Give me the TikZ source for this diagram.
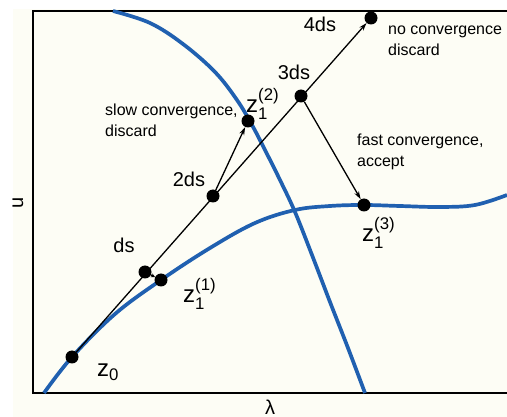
\documentclass[tikz,border=0pt]{standalone}
\usepackage{amsmath}
\usepackage{fontspec}
\setmainfont{Liberation Sans}
\usepackage{xcolor}
\usepackage{tikz}
\usetikzlibrary{arrows.meta,positioning}

\definecolor{paper}{RGB}{253,253,245}
\definecolor{branch}{RGB}{32,96,176}

\begin{document}
\begin{tikzpicture}[x=1pt, y=-1pt, >={Stealth[length=8pt,width=5pt]},
  dot/.style={circle, fill=black, inner sep=0pt, minimum size=13pt},
  steplbl/.style={font=\fontsize{20}{24}\selectfont, anchor=base, inner sep=0pt},
  zlbl/.style={font=\fontsize{24}{28}\selectfont, anchor=base west, inner sep=0pt},
  note/.style={font=\fontsize{16}{21}\selectfont, align=left, anchor=base west, inner sep=0pt},
  branchline/.style={branch, line width=3.7pt},
  link/.style={->, line width=1.3pt}]
  \useasboundingbox (0,0) rectangle (507,417);
  % Paper and frame
  \fill[white] (0,0) rectangle (507,417);
  \fill[paper] (13,9) rectangle (507,417);
  \draw[line width=1.3pt] (507,11) -- (33,11) -- (33,393) -- (507,393);
  \node[font=\fontsize{20}{24}\selectfont, rotate=90] (ulbl) at (18,203) {u};
  \node[font=\fontsize{20}{24}\selectfont] (lamlbl) at (270,407) {λ};

  % Solution branches
  \draw[branchline] plot[smooth, tension=0.6] coordinates {
    (44,393) (72,357) (115,314) (161,280) (210,248) (255,223) (295,210)
    (330,206) (364,205) (400,206) (440,207) (475,205) (507,195)};
  \draw[branchline] plot[smooth, tension=0.6] coordinates {
    (113,11) (150,23) (183,44) (215,72) (237,100) (252,125) (265,150)
    (280,180) (295,212) (312,255) (330,302) (348,348) (365,393)};

  % Predictor steps and corrector points
  \node[dot] (z0) at (72,357) {};
  \node[dot] (ds1) at (145,272) {};
  \node[dot] (z11) at (161,280) {};
  \node[dot] (ds2) at (213,196) {};
  \node[dot] (z12) at (248,121) {};
  \node[dot] (ds3) at (301,96) {};
  \node[dot] (z13) at (364,205) {};
  \node[dot] (ds4) at (371,18) {};

  \draw[link] (z0) -- (ds4);
  \draw[->, line width=1.3pt, >={Stealth[length=4pt,width=4pt]}] (ds1) -- (z11);
  \draw[link] (ds2) -- (z12);
  \draw[link] (ds3) -- (z13);

  % Labels
  \node[steplbl] (l1) at (124,253) {ds};
  \node[steplbl] (l2) at (189,187) {2ds};
  \node[steplbl] (l3) at (294,80) {3ds};
  \node[steplbl] (l4) at (320,32) {4ds};

  \node[zlbl] (lz0) at (97,377) {$\text{z}_{\text{0}}$};
  \node[zlbl] (lz11) at (183,303) {$\text{z}_{\text{1}}^{\text{(1)}}$};
  \node[zlbl] (lz12) at (246,113) {$\text{z}_{\text{1}}^{\text{(2)}}$};
  \node[zlbl] (lz13) at (362,242) {$\text{z}_{\text{1}}^{\text{(3)}}$};

  % Notes (base anchor sits on the last line)
  \node[note] (slow) at (105,137) {slow convergence,\\discard};
  \node[note] (fast) at (357,167) {fast convergence,\\accept};
  \node[note] (none) at (388,56) {no convergence\\discard};
\end{tikzpicture}
\end{document}
